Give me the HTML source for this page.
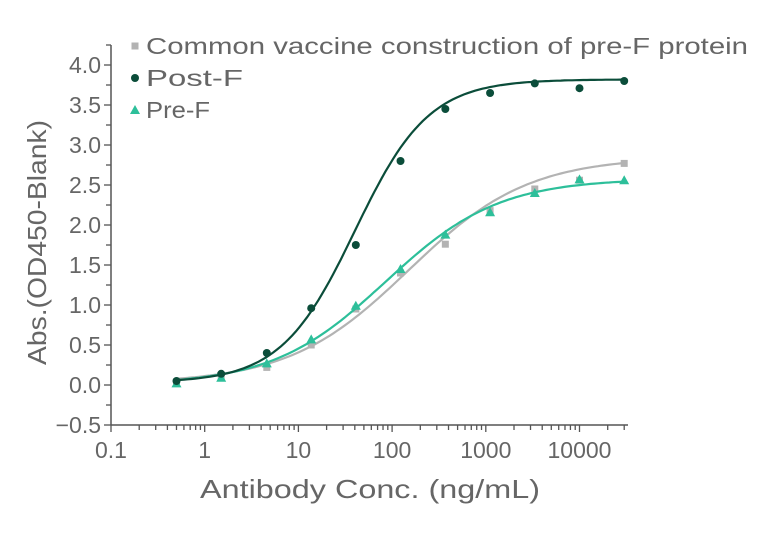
<!DOCTYPE html>
<html><head><meta charset="utf-8"><style>
body{margin:0;background:#fff;}
svg text{font-family:"Liberation Sans",sans-serif;fill:#666;}
</style></head><body>
<svg id="chart" width="760" height="530" xmlns="http://www.w3.org/2000/svg"></svg>
<script>
const concs=[0.5,1.5,4.6,13.7,41,123,370,1111,3333,10000,30000];
const postF=[0.05,0.14,0.40,0.96,1.75,2.80,3.45,3.65,3.77,3.71,3.80];
const preF=[0.02,0.09,0.27,0.57,0.99,1.45,1.88,2.16,2.40,2.57,2.56];
const common=[0.03,0.10,0.22,0.50,0.95,1.40,1.76,2.18,2.45,2.56,2.77];
const postFit=[0.03,3.82,40,1.1];
const preFit=[0.0,2.58,85,0.72];
const commonFit=[0.02,2.85,150,0.68];
const xTicks=["0.1","1","10","100","1000","10000"];
const yTicks=["−0.5","0.0","0.5","1.0","1.5","2.0","2.5","3.0","3.5","4.0"];
const legendLabels=["Common vaccine construction of pre-F protein","Post-F","Pre-F"];
const legendWidths=[602,97,64];

const NS="http://www.w3.org/2000/svg";
const svg=document.getElementById('chart');
const X0=111,DEC=93.7,Y0=425,YU=80;
const xs=v=>X0+DEC*(Math.log10(v)+1);
const ys=v=>Y0-YU*(v+0.5);
function mk(t,a,p){const e=document.createElementNS(NS,t);for(const k in a)e.setAttribute(k,a[k]);(p||svg).appendChild(e);return e;}
const AX="#555";
let e=mk('line',{x1:X0,y1:Y0,x2:628,y2:Y0,stroke:AX,'stroke-width':1.5});

e=mk('line',{x1:X0,y1:45,x2:X0,y2:Y0,stroke:AX,'stroke-width':1.5});

for(let v=-0.5;v<=4.26;v+=0.25){const maj=Math.abs(v*2-Math.round(v*2))<1e-6;
 mk('line',{x1:X0,x2:X0-(maj?7:5),y1:ys(v),y2:ys(v),stroke:AX,'stroke-width':1.3});}
yTicks.forEach((t,i)=>{const v=-0.5+0.5*i;
 e=mk('text',{x:X0-10,y:ys(v)+8,'text-anchor':'end','font-size':23});e.textContent=t;
 });
for(let d=-1;d<=4;d++){for(let m=1;m<=9;m++){const v=m*Math.pow(10,d);const x=xs(v);if(x>628)continue;
 mk('line',{x1:x,x2:x,y1:Y0,y2:Y0+(m==1?7:5),stroke:AX,'stroke-width':1.3});}}
xTicks.forEach((t,i)=>{
 e=mk('text',{x:xs(Math.pow(10,i-1)),y:Y0+33,'text-anchor':'middle','font-size':23});e.textContent=t;
 });
e=mk('text',{x:200,y:498,'font-size':26,textLength:340,lengthAdjust:'spacingAndGlyphs'});e.textContent="Antibody Conc. (ng/mL)";

e=mk('text',{x:-365,y:0,'font-size':26,textLength:245,lengthAdjust:'spacingAndGlyphs',transform:'translate(46,0) rotate(-90)'});e.textContent="Abs.(OD450-Blank)";

const series=[
 {d:common,f:commonFit,c:"#b3b3b3",s:"sq",n:"common"},
 {d:preF,f:preFit,c:"#2dbf9a",s:"tri",n:"pre-f"},
 {d:postF,f:postFit,c:"#0b4d3a",s:"dot",n:"post-f"}];
function fourPL(f,x){return f[0]+(f[1]-f[0])/(1+Math.pow(f[2]/x,f[3]));}
function marker(s,c,x,y,p){
 if(s=="sq")return mk('rect',{x:x-3.5,y:y-3.5,width:7,height:7,fill:c},p);
 if(s=="dot")return mk('circle',{cx:x,cy:y,r:4,fill:c},p);
 return mk('path',{d:`M${x} ${y-5}L${x+5} ${y+4}L${x-5} ${y+4}Z`,fill:c},p);}
series.forEach(S=>{
 const g=mk('g',{});
 let d="";const a=Math.log10(concs[0]),b=Math.log10(concs[concs.length-1]);
 for(let i=0;i<=120;i++){const lx=a+(b-a)*i/120,x=Math.pow(10,lx);d+=(i?"L":"M")+xs(x).toFixed(1)+" "+ys(fourPL(S.f,x)).toFixed(1);}
 const p=mk('path',{d:d,fill:'none',stroke:S.c,'stroke-width':2.2},g);
 
 S.d.forEach((v,i)=>{const m=marker(S.s,S.c,xs(concs[i]),ys(v),g);
  });
});
const lg=mk('g',{});
const lc=[["#b3b3b3","sq"],["#0b4d3a","dot"],["#2dbf9a","tri"]];
legendLabels.forEach((t,i)=>{const y=46+32*i;
 const it=mk('g',{},lg);
 marker(lc[i][1],lc[i][0],135,y,it);
 const tx=mk('text',{x:146,y:y+8,'font-size':23,textLength:legendWidths[i],lengthAdjust:'spacingAndGlyphs'},it);tx.textContent=t;});
</script>
</body></html>
